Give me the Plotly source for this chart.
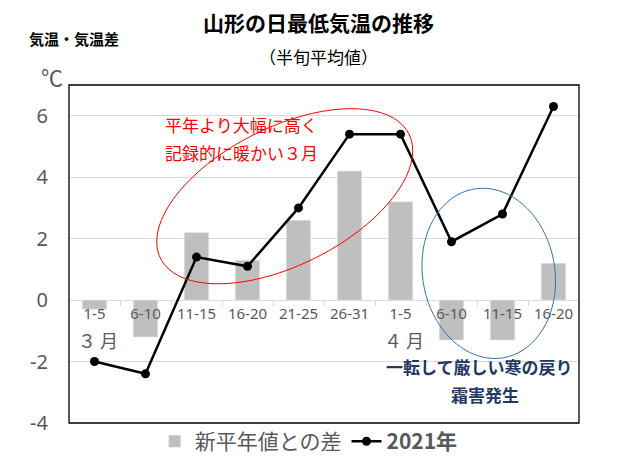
import numpy as np
import plotly.graph_objects as go

categories = ["1-5", "6-10", "11-15", "16-20", "21-25", "26-31", "1-5", "6-10", "11-15", "16-20"]
months = ["３ 月", "４ 月"]
month_pos = [0, 6]
diff_normal = [-0.3, -1.2, 2.2, 1.3, 2.6, 4.2, 3.2, -1.3, -1.3, 1.2]
temp_2021 = [-2.0, -2.4, 1.4, 1.1, 3.0, 5.4, 5.4, 1.9, 2.8, 6.3]
y_ticks = [-4, -2, 0, 2, 4, 6]

JP = "Noto Sans CJK JP"
x = list(range(len(categories)))


def ellipse_path(cx, cy, a, b, phi, n=80):
    # x = cx + a cos t, y = cy + b cos(t - phi)  (tilted ellipse)
    t = np.linspace(0, 2 * np.pi, n)
    xs = cx + a * np.cos(t)
    ys = cy + b * np.cos(t - phi)
    pts = [f"{px:.4f},{py:.4f}" for px, py in zip(xs, ys)]
    return "M " + " L ".join(pts) + " Z"


def note(fig, xv, yv, text, size, color, ref="x", xanchor="center"):
    fig.add_annotation(x=xv, y=yv, xref=ref if ref == "paper" else "x",
                       yref=ref if ref == "paper" else "y", text=text, showarrow=False,
                       xanchor=xanchor, yanchor="middle",
                       font=dict(family=JP, size=size, color=color))


fig = go.Figure()
fig.add_trace(go.Bar(x=x, y=diff_normal, name="新平年値との差", marker_color="#bfbfbf",
                     width=0.48))
fig.add_trace(go.Scatter(x=x, y=temp_2021, name="<b>2021年</b>", mode="lines+markers",
                         line=dict(color="black", width=2.5),
                         marker=dict(color="black", size=9)))

# ellipses
fig.add_shape(type="path", xref="x", yref="y",
              path=ellipse_path(3.73, 3.38, 2.51, 2.85, np.arccos(0.52)),
              line=dict(color="#ff0000", width=1))
fig.add_shape(type="path", xref="x", yref="y",
              path=ellipse_path(7.73, 0.87, 1.31, 2.77, np.arccos(-0.09)),
              line=dict(color="#2e75b6", width=1))
# frame
fig.add_shape(type="rect", xref="paper", yref="paper", x0=0, x1=1, y0=0, y1=1,
              line=dict(color="black", width=1.3), layer="above")

for m, p in zip(months, month_pos):
    fig.add_annotation(x=p, y=0, xref="x", yref="y", text=m, showarrow=False,
                       xanchor="center", yanchor="middle",
                       yshift=-40, xshift=3, font=dict(family=JP, size=18, color="#595959"))

note(fig, 2.89, 5.7, "平年より大幅に高く", 17, "#ff0000")
note(fig, 2.89, 4.79, "記録的に暖かい３月", 17, "#ff0000")
note(fig, 7.55, -2.16, "<b>一転して厳しい寒の戻り</b>", 17, "#1f3864")
note(fig, 7.65, -3.08, "<b>霜害発生</b>", 17, "#1f3864")

note(fig, 0.49, 1.186, "<b>山形の日最低気温の推移</b>", 21, "black", ref="paper")
note(fig, 0.49, 1.083, "（半旬平均値）", 17, "black", ref="paper")
note(fig, -0.082, 1.139, "<b>気温・気温差</b>", 15, "black", ref="paper", xanchor="left")
note(fig, -0.034, 1.026, "℃", 22, "#595959", ref="paper")

fig.update_layout(
    width=613, height=468,
    margin=dict(l=61, r=42, t=77, b=53),
    plot_bgcolor="white", paper_bgcolor="white",
    showlegend=True,
    legend=dict(orientation="h", x=0.47, xanchor="center", y=-0.055, yanchor="middle",
                bgcolor="rgba(0,0,0,0)",
                font=dict(family=JP, size=21, color="#595959"), itemwidth=30),
    xaxis=dict(range=[-0.5, 9.5], tickvals=x, ticktext=categories, anchor="free",
               position=4 / 11, showgrid=False, showline=False, zeroline=False,
               ticks="outside", ticklen=0,
               minor=dict(tickvals=[i - 0.5 for i in range(len(categories) + 1)],
                          ticks="outside", ticklen=5, tickcolor="#d9d9d9"),
               tickfont=dict(family="Noto Sans", size=15, color="#595959")),
    yaxis=dict(range=[-4, 7], tickvals=y_ticks, ticktext=[str(v) for v in y_ticks],
               showgrid=True, gridcolor="#d9d9d9",
               zeroline=True, zerolinecolor="#d9d9d9", zerolinewidth=1,
               ticklabelstandoff=20,
               tickfont=dict(family="Noto Sans", size=20, color="#595959")),
)

fig.write_html("out.html")
